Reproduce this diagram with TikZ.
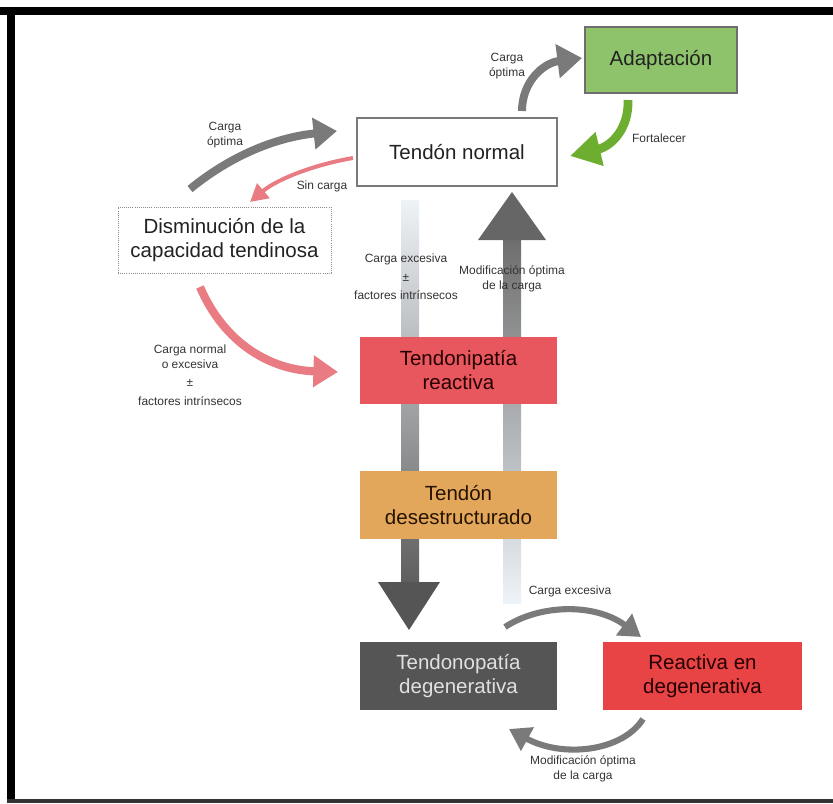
\documentclass[tikz,border=0pt]{standalone}
\usepackage{fontspec}
\setmainfont{Liberation Sans}
\usetikzlibrary{arrows.meta}
\definecolor{txt}{HTML}{222222}
\definecolor{lbltxt}{HTML}{333333}
\definecolor{bordgray}{HTML}{7A7A7A}
\definecolor{adaptgreen}{HTML}{8EC36B}
\definecolor{reactred}{HTML}{E8575D}
\definecolor{desorange}{HTML}{E2A75B}
\definecolor{degdark}{HTML}{555555}
\definecolor{redeg}{HTML}{E84445}
\definecolor{arrgray}{HTML}{7A7A7A}
\definecolor{arrpink}{HTML}{E97C83}
\definecolor{arrgreen}{HTML}{6DAE30}
\definecolor{shaftlight}{HTML}{EEF3F8}
\definecolor{shaftmid}{HTML}{AFBAC6}
\definecolor{shaftdark}{HTML}{5E5E5E}
\begin{document}
\begin{tikzpicture}[x=0.03cm,y=-0.03cm,
  font=\fontsize{17.5}{20.5}\selectfont,
  box/.style={inner sep=0pt, align=center, text=txt},
  lbl/.style={font=\fontsize{10.2}{12.8}\selectfont, text=lbltxt, align=center, inner sep=0pt},
  garrow/.style={draw=arrgray, line width=6.8pt, -{Triangle[width=26pt,length=20pt]}},
  gbot/.style={draw=arrgray, line width=5.2pt, -{Triangle[width=22pt,length=18pt]}},
]
\useasboundingbox (0,0) rectangle (833,803);
% frame
\fill[black] (0,7) rectangle (833,15);
\fill[black] (7,7) rectangle (15,803);
\fill[black!80] (7,799) rectangle (833,803);

% big vertical arrows (drawn behind the boxes)
\shade[top color=shaftlight, middle color=shaftmid, bottom color=shaftdark] (401,200) rectangle (419,583);
\coordinate (dtip) at (409,630);
\fill[degdark] (378,582) -- (440,582) -- (dtip) -- cycle;
\shade[top color=shaftdark!90, middle color=shaftmid, bottom color=shaftlight] (503,240) rectangle (521,603);
\coordinate (utip) at (512,192);
\fill[degdark!90] (478,240) -- (546,240) -- (utip) -- cycle;

% boxes
\node[box, draw=bordgray, line width=1.2pt, fill=white, minimum width=200*0.03cm, minimum height=68*0.03cm] (normal) at (457,152) {Tendón normal};
\node[box, draw=bordgray!90!black, line width=1.6pt, fill=adaptgreen, minimum width=152*0.03cm, minimum height=66*0.03cm] (adapt) at (661,60) {Adaptación};
\node[box, draw=black!45, densely dotted, line width=0.8pt, fill=white, minimum width=213*0.03cm, minimum height=66*0.03cm] (dismin) at (224.5,240) {Disminución de la\\capacidad tendinosa};
\node[box, fill=reactred, text=black!85!red, minimum width=197*0.03cm, minimum height=67*0.03cm] (react) at (458.5,370.5) {Tendonipatía\\reactiva};
\node[box, fill=desorange, text=black!85!orange, minimum width=197*0.03cm, minimum height=68*0.03cm] (desest) at (458.5,505) {Tendón\\desestructurado};
\node[box, fill=degdark, text=black!12, minimum width=197*0.03cm, minimum height=68*0.03cm] (degen) at (458.5,676) {Tendonopatía\\degenerativa};
\node[box, fill=redeg, text=black!85!red, minimum width=199*0.03cm, minimum height=68*0.03cm] (reacdeg) at (702.5,676) {Reactiva en\\degenerativa};

% curved arrows
\coordinate (a1s) at (190,189);
\coordinate (a1e) at (337,131);
\draw[garrow] (a1s) .. controls (228,158) and (272,138) .. (a1e);

\coordinate (a2s) at (353,158);
\coordinate (a2e) at (250,202);
\draw[draw=arrpink, line width=3.4pt, -{Triangle[width=16pt,length=15pt]}] (a2s) .. controls (312,165) and (276,180) .. (a2e);

\coordinate (a3s) at (200,287);
\coordinate (a3e) at (338,372);
\draw[draw=arrpink, line width=7pt, -{Triangle[width=26pt,length=21pt]}] (a3s) .. controls (225,345) and (272,370) .. (a3e);

\coordinate (a4s) at (522,111);
\coordinate (a4e) at (582,58);
\draw[garrow, -{Triangle[width=28pt,length=21pt]}] (a4s) .. controls (522,82) and (543,63) .. (a4e);

\coordinate (a5s) at (628,100);
\coordinate (a5e) at (570,156);
\draw[draw=arrgreen, line width=7.5pt, -{Triangle[width=28pt,length=26pt]}] (a5s) .. controls (629,128) and (612,146) .. (a5e);

\coordinate (a6s) at (505,627);
\coordinate (a6e) at (641,637);
\draw[gbot] (a6s) .. controls (540,604) and (595,603) .. (a6e);

\coordinate (a7s) at (643,719);
\coordinate (a7e) at (509,729);
\draw[gbot] (a7s) .. controls (622,752) and (562,758) .. (a7e);

% labels
\node[lbl] (l1) at (225,135) {Carga\\óptima};
\node[lbl] (l2) at (322,186) {Sin carga};
\node[lbl] (l3) at (406,277) {Carga excesiva\\[3pt]±\\[3pt]factores intrínsecos};
\node[lbl] (l4) at (512,279) {Modificación óptima\\de la carga};
\node[lbl] (l5) at (190,375) {Carga normal\\o excesiva\\[3pt]±\\[3pt]factores intrínsecos};
\node[lbl] (l6) at (507,66) {Carga\\óptima};
\node[lbl] (l7) at (659,138) {Fortalecer};
\node[lbl] (l8) at (570,591) {Carga excesiva};
\node[lbl] (l9) at (583,769) {Modificación óptima\\de la carga};
\end{tikzpicture}
\end{document}
